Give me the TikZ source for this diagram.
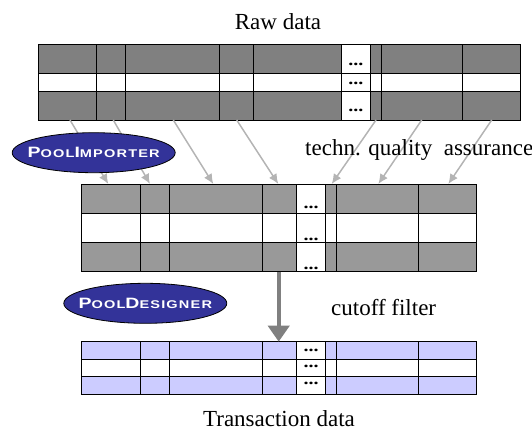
\documentclass[tikz,border=0pt]{standalone}
\usepackage{fontspec}
\usepackage{graphicx}
\setmainfont{Liberation Serif}
\newfontfamily\capsfont[LetterSpace=8]{Liberation Sans}
\usetikzlibrary{arrows.meta,shapes.geometric}
\definecolor{rawgray}{HTML}{808080}
\definecolor{midgray}{HTML}{999999}
\definecolor{lav}{HTML}{CCCCFF}
\definecolor{toolblue}{HTML}{333399}
\definecolor{arrgray}{HTML}{B4B4B4}
\newcommand\capbig[1]{{\fontsize{15}{15}\selectfont #1}}
\newcommand\capsmall[1]{{\fontsize{11.2}{11.2}\selectfont #1}}
\newcommand\celldots{\scalebox{1.25}[1]{...}}
\begin{document}
\begin{tikzpicture}[x=1pt,y=-1pt,
  gridline/.style={draw=black,line width=1pt},
  dotsnode/.style={font=\fontsize{16}{16}\selectfont\bfseries,inner sep=0pt,anchor=base,text height=4pt,text depth=0pt},
  label/.style={font=\fontsize{23}{27}\selectfont,inner sep=0pt},
  tool/.style={ellipse,draw=black,line width=0.8pt,fill=toolblue,minimum width=163pt,minimum height=40pt,inner sep=-50pt,text=white,font=\capsfont\bfseries},
  thinarrow/.style={draw=arrgray,line width=1.5pt,-{Latex[length=10pt,width=9pt]}},
  thickarrow/.style={draw=rawgray,line width=4.3pt,-{Triangle[length=16pt,width=21pt]}}]
\useasboundingbox (0,0) rectangle (532,432);

% ---------- Raw data table ----------
\fill[rawgray] (38.7,44.7) rectangle (520.7,73.3);
\fill[rawgray] (38.7,91) rectangle (520.7,120);
\fill[white] (341.7,44.7) rectangle (370,120);
\draw[gridline] (38.7,44.7) rectangle (520.7,120);
\draw[gridline] (38.7,73.3) -- (520.7,73.3) (38.7,91) -- (520.7,91);
\foreach \x in {96.7,125.7,219,253.3,341.7,370,381,462.3}
  \draw[gridline] (\x,44.7) -- (\x,120);
\node[dotsnode] (rd1) at (355.8,65) {\celldots};
\node[dotsnode] (rd2) at (355.8,84) {\celldots};
\node[dotsnode] (rd3) at (355.8,111.7) {\celldots};

% ---------- Pool table ----------
\fill[midgray] (81.7,184) rectangle (476.7,213.3);
\fill[midgray] (81.7,242.5) rectangle (476.7,271.5);
\fill[white] (296.7,184) rectangle (325.3,271.5);
\draw[gridline] (81.7,184) rectangle (476.7,271.5);
\draw[gridline] (81.7,213.3) -- (476.7,213.3) (81.7,242.5) -- (476.7,242.5);
\foreach \x in {140,169,262,296.7,325.3,336.7,418.3}
  \draw[gridline] (\x,184) -- (\x,271.5);
\node[dotsnode] (pd1) at (311,208.2) {\celldots};
\node[dotsnode] (pd2) at (311,240) {\celldots};
\node[dotsnode] (pd3) at (311,269.3) {\celldots};

% ---------- Transaction table ----------
\fill[lav] (81.7,341.7) rectangle (476.7,359);
\fill[lav] (81.7,376.3) rectangle (476.7,394);
\fill[white] (296.7,341.7) rectangle (325.3,394);
\draw[gridline] (81.7,341.7) rectangle (476.7,394);
\draw[gridline] (81.7,359) -- (476.7,359) (81.7,376.3) -- (476.7,376.3);
\foreach \x in {140,169,262,296.7,325.3,336.7,418.3}
  \draw[gridline] (\x,341.7) -- (\x,394);
\node[dotsnode] (td1) at (311,351) {\celldots};
\node[dotsnode] (td2) at (311,367.7) {\celldots};
\node[dotsnode] (td3) at (311,384) {\celldots};

% ---------- arrows ----------
\coordinate (s1) at (70,120);    \coordinate (e1) at (108.3,184);
\coordinate (s2) at (113.3,120); \coordinate (e2) at (150,184);
\coordinate (s3) at (173.3,120); \coordinate (e3) at (213.3,184);
\coordinate (s4) at (236.7,120); \coordinate (e4) at (278.3,184);
\coordinate (s5) at (376,120);   \coordinate (e5) at (331.7,184);
\coordinate (s6) at (421.7,120); \coordinate (e6) at (378.3,184);
\coordinate (s7) at (491.7,120); \coordinate (e7) at (448.3,184);
\foreach \i in {1,...,7} \draw[thinarrow] (s\i) -- (e\i);

\coordinate (fs) at (278.7,271.5);
\coordinate (fe) at (278.7,341.7);
\draw[thickarrow] (fs) -- (fe);

% ---------- tool ellipses ----------
\node[tool] (importer) at (93.7,152.7)
  {\scalebox{1.3}[1]{\capbig{P}\capsmall{OOL}\capbig{I}\capsmall{MPORTER}}};
\node[tool] (designer) at (145.3,303.3)
  {\scalebox{1.3}[1]{\capbig{P}\capsmall{OOL}\capbig{D}\capsmall{ESIGNER}}};

% ---------- labels ----------
\node[label,anchor=base] (raw) at (278,29.3) {Raw data};
\node[label,anchor=base west] (tqa) at (305,155) {techn. quality\ \ assurance};
\node[label,anchor=base west] (cut) at (331,315) {cutoff filter};
\node[label,anchor=base] (trans) at (279,426.5) {Transaction data};
\end{tikzpicture}
\end{document}
